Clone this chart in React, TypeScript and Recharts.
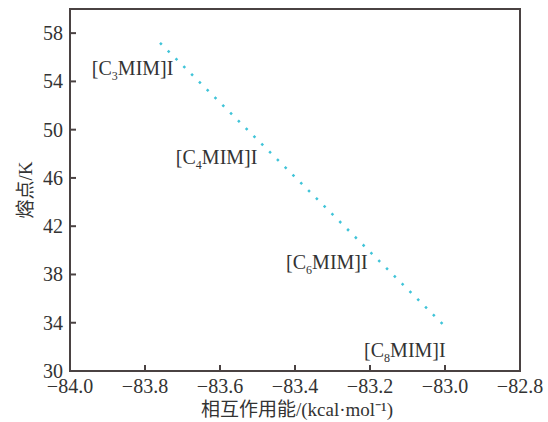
import {
  ComposedChart,
  Line,
  ReferenceArea,
  Scatter,
  XAxis,
  YAxis,
} from "recharts";

// fitted trend: interaction energy (kcal/mol) vs melting point (K)
const fitEnergy = [-83.76, -83.0];
const fitMelt = [57.2, 33.7];

// compound labels placed in data space
const compounds = ["3", "4", "6", "8"];
const labelEnergy = [-83.833, -83.609, -83.315, -83.107];
const labelMelt = [55.1, 47.7, 39.0, 31.7];

const xTicks = [-84.0, -83.8, -83.6, -83.4, -83.2, -83.0, -82.8];
const yTicks = [30, 34, 38, 42, 46, 50, 54, 58];

const fitData = fitEnergy.map((x, i) => ({ x, y: fitMelt[i] }));
const labelData = compounds.map((n, i) => ({
  x: labelEnergy[i],
  y: labelMelt[i],
  n,
}));

const ink = "#4a4242";
const serif = '"Liberation Serif", "Times New Roman", serif';
const mixed = '"Liberation Serif", "Noto Sans CJK SC", serif';

const minus = (v: string) => v.replace("-", "\u2212");

function XTick({ x, y, payload }: any) {
  // y is axisY + tickSize + tickMargin
  const axisY = y - 8;
  return (
    <g>
      <line x1={x} x2={x} y1={axisY} y2={axisY - 6} stroke={ink} strokeWidth={2} />
      <text
        x={x}
        y={axisY + 22}
        textAnchor="middle"
        style={{ fontFamily: serif, fontSize: 20 }}
        fill="#333"
      >
        {minus(Number(payload.value).toFixed(1))}
      </text>
    </g>
  );
}

function YTick({ x, y, payload }: any) {
  const axisX = x + 8;
  return (
    <g>
      <line x1={axisX} x2={axisX + 6} y1={y} y2={y} stroke={ink} strokeWidth={2} />
      <text
        x={axisX - 7}
        y={y + 7}
        textAnchor="end"
        style={{ fontFamily: serif, fontSize: 20 }}
        fill="#333"
      >
        {payload.value}
      </text>
    </g>
  );
}

function CompoundLabel({ cx, cy, payload }: any) {
  return (
    <text
      x={cx}
      y={cy + 7}
      textAnchor="middle"
      style={{ fontFamily: serif, fontSize: 20 }}
      fill="#333"
    >
      [C
      <tspan style={{ fontSize: 12 }} dy={5}>
        {payload.n}
      </tspan>
      <tspan dy={-5}>MIM]I</tspan>
    </text>
  );
}

export default function App() {
  return (
    <div style={{ position: "absolute", left: 0, top: 0, background: "#fff" }}>
      <ComposedChart
        width={548}
        height={422}
        margin={{ top: 9, right: 28, left: 0, bottom: 0 }}
      >
        <XAxis
          dataKey="x"
          type="number"
          domain={[-84, -82.8]}
          ticks={xTicks}
          height={51}
          tickSize={4}
          tickMargin={4}
          tickLine={false}
          axisLine={{ stroke: ink, strokeWidth: 2 }}
          tick={<XTick />}
          interval={0}
          allowDataOverflow
          label={{
            value: "相互作用能/(kcal·mol⁻¹)",
            position: "insideBottom",
            offset: 6,
            dx: 2,
            style: { fontFamily: mixed, fontSize: 19, fill: "#333" },
          }}
        />
        <YAxis
          dataKey="y"
          type="number"
          domain={[30, 60]}
          ticks={yTicks}
          width={70}
          tickSize={4}
          tickMargin={4}
          tickLine={false}
          axisLine={{ stroke: ink, strokeWidth: 2 }}
          tick={<YTick />}
          interval={0}
          allowDataOverflow
          label={{
            value: "熔点/K",
            angle: -90,
            position: "insideLeft",
            offset: 0,
            dx: 25,
            dy: 0,
            style: { fontFamily: mixed, fontSize: 19, fill: "#333", textAnchor: "middle" },
          }}
        />
        <ReferenceArea
          x1={-84}
          x2={-82.8}
          y1={30}
          y2={60}
          fill="none"
          stroke={ink}
          strokeWidth={2}
          ifOverflow="visible"
        />
        <Line
          data={fitData}
          dataKey="y"
          type="linear"
          stroke="#40c4d8"
          strokeWidth={2.5}
          strokeDasharray="2.5 8.5"
          dot={false}
          activeDot={false}
          isAnimationActive={false}
        />
        <Scatter
          data={labelData}
          dataKey="y"
          shape={<CompoundLabel />}
          isAnimationActive={false}
        />
      </ComposedChart>
    </div>
  );
}
